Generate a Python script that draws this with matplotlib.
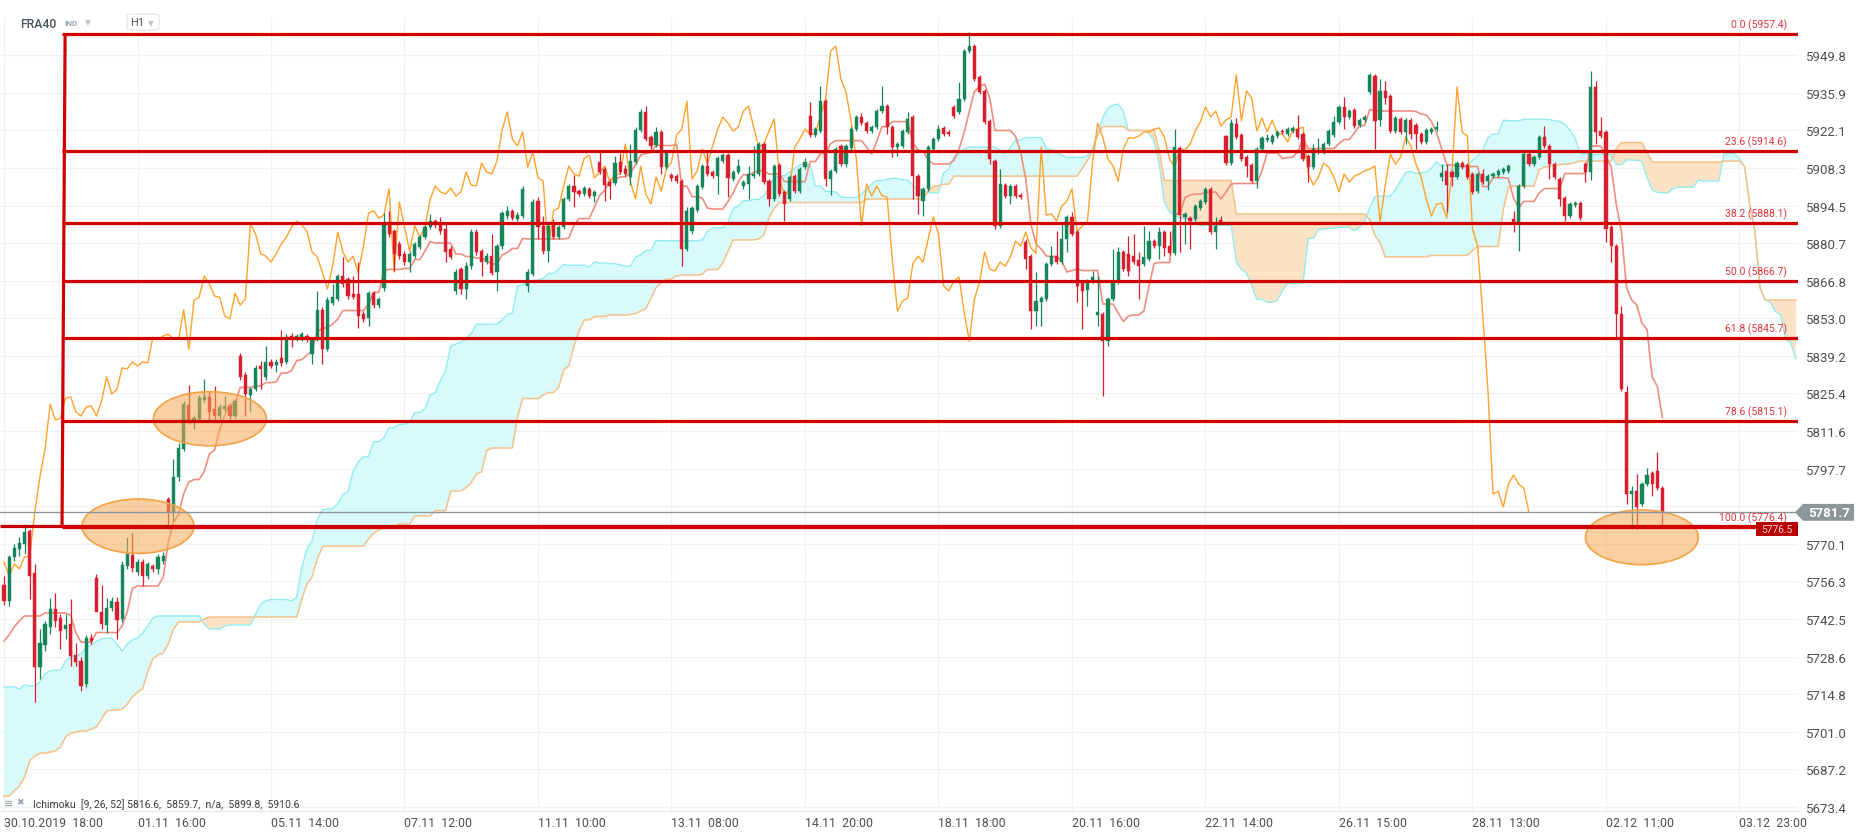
import numpy as np
import pandas as pd
import matplotlib
matplotlib.use("Agg")
import matplotlib.pyplot as plt
from matplotlib import transforms
from matplotlib.patches import Ellipse, Rectangle, Polygon, FancyBboxPatch

plt.rcParams["font.family"] = ["Roboto", "DejaVu Sans"]

# ---------- data: FRA40 H1 candles (30.10.2019 18:00 -> 03.12 09:00) ----------
opens = [
    5755.0, 5749.1, 5765.3, 5768.2, 5770.1, 5774.8, 5759.4, 5724.8, 5732.9, 5739.6,
    5746.2, 5742.9, 5738.8, 5740.7, 5729.3, 5727.1, 5718.6, 5735.5, 5757.6, 5745.1,
    5740.3, 5746.5, 5748.7, 5742.5, 5761.9, 5766.0, 5759.8, 5763.4, 5758.3, 5762.0,
    5760.9, 5763.8, 5786.6, 5781.8, 5794.7, 5805.0, 5821.1, 5815.6, 5816.0, 5823.0,
    5824.1, 5819.7, 5817.1, 5819.7, 5820.8, 5817.1, 5839.2, 5832.2, 5824.8, 5827.0,
    5835.5, 5831.4, 5837.0, 5835.9, 5838.4, 5837.0, 5846.5, 5845.8, 5845.8, 5846.5,
    5839.9, 5845.4, 5856.1, 5841.7, 5858.6, 5860.1, 5868.6, 5867.5, 5861.9, 5861.9,
    5854.6, 5853.1, 5862.3, 5857.9, 5864.2, 5887.7, 5885.1, 5880.3, 5876.7, 5873.7,
    5875.9, 5879.2, 5882.9, 5886.6, 5888.8, 5888.1, 5885.9, 5878.5, 5863.1, 5871.1,
    5863.8, 5872.2, 5884.7, 5877.8, 5873.7, 5875.9, 5870.0, 5879.6, 5890.6, 5892.5,
    5889.5, 5890.6, 5864.9, 5869.3, 5896.1, 5887.0, 5877.8, 5887.7, 5882.9, 5886.6,
    5896.9, 5901.7, 5899.8, 5898.7, 5900.6, 5898.0, 5910.5, 5907.9, 5903.1, 5902.8,
    5910.5, 5907.9, 5905.0, 5910.5, 5922.2, 5928.9, 5919.7, 5916.7, 5921.5, 5908.6,
    5905.7, 5905.3, 5903.5, 5878.5, 5885.1, 5892.8, 5901.3, 5909.0, 5906.8, 5905.3,
    5910.8, 5913.0, 5904.2, 5906.8, 5901.7, 5902.4, 5905.3, 5906.1, 5917.1, 5903.5,
    5896.9, 5909.4, 5899.5, 5896.9, 5905.3, 5899.8, 5908.6, 5927.4, 5920.4, 5921.9,
    5932.9, 5904.2, 5907.2, 5916.4, 5909.7, 5915.6, 5922.6, 5927.0, 5924.8, 5921.9,
    5923.3, 5929.2, 5931.1, 5923.3, 5916.0, 5916.4, 5921.5, 5927.0, 5905.3, 5896.1,
    5900.6, 5915.3, 5918.9, 5923.0, 5921.5, 5930.7, 5928.9, 5933.6, 5951.3, 5953.1,
    5941.7, 5936.6, 5925.6, 5910.8, 5887.0, 5902.0, 5898.0, 5901.7, 5898.3, 5881.1,
    5875.9, 5855.7, 5859.0, 5860.1, 5873.0, 5875.9, 5873.7, 5882.2, 5890.3, 5884.7,
    5866.4, 5863.4, 5866.7, 5854.2, 5854.6, 5844.7, 5860.1, 5866.4, 5877.4, 5876.7,
    5875.9, 5874.5, 5873.0, 5874.8, 5881.4, 5879.6, 5884.7, 5879.6, 5877.0, 5915.6,
    5890.3, 5889.9, 5889.5, 5893.6, 5895.8, 5900.6, 5884.7, 5889.2, 5920.0, 5910.1,
    5924.4, 5920.4, 5912.3, 5909.4, 5903.5, 5915.3, 5918.6, 5917.8, 5920.0, 5921.9,
    5920.8, 5921.9, 5922.6, 5920.8, 5912.7, 5908.6, 5914.2, 5914.2, 5917.1, 5920.4,
    5925.2, 5930.7, 5927.0, 5929.6, 5924.1, 5925.9, 5936.2, 5942.1, 5925.9, 5936.6,
    5934.7, 5921.9, 5926.3, 5921.5, 5925.9, 5924.1, 5920.8, 5917.8, 5921.5, 5922.6,
    5905.0, 5907.2, 5906.8, 5905.0, 5910.1, 5909.4, 5906.1, 5899.8, 5906.1, 5903.5,
    5905.3, 5905.7, 5906.8, 5907.2, 5889.5, 5888.4, 5901.7, 5913.4, 5909.7, 5912.3,
    5919.7, 5916.4, 5909.7, 5904.2, 5897.2, 5890.6, 5894.7, 5895.4, 5909.7, 5906.8,
    5938.1, 5921.9, 5921.5, 5886.6, 5879.6, 5854.6, 5825.9, 5788.4, 5789.5, 5784.8,
    5792.1, 5796.1, 5796.9, 5790.6,
]
highs = [
    5758.3, 5766.0, 5770.1, 5772.7, 5777.4, 5775.6, 5762.7, 5738.8, 5741.8, 5750.2,
    5752.0, 5744.4, 5744.4, 5749.8, 5733.6, 5728.5, 5736.6, 5737.0, 5759.0, 5755.0,
    5750.2, 5750.6, 5750.6, 5763.8, 5772.7, 5774.1, 5764.5, 5764.5, 5763.4, 5762.7,
    5766.4, 5767.1, 5787.3, 5801.3, 5807.2, 5822.6, 5828.5, 5817.5, 5824.8, 5830.7,
    5826.3, 5828.1, 5821.5, 5824.5, 5821.5, 5823.4, 5840.3, 5833.3, 5827.8, 5835.9,
    5837.3, 5842.8, 5838.1, 5838.1, 5848.7, 5847.2, 5847.6, 5847.2, 5848.0, 5847.2,
    5846.1, 5863.1, 5857.2, 5860.8, 5865.6, 5869.3, 5875.6, 5868.2, 5868.6, 5873.7,
    5855.7, 5863.1, 5863.1, 5860.8, 5891.7, 5892.5, 5885.9, 5881.4, 5877.8, 5877.8,
    5881.1, 5883.6, 5887.3, 5891.4, 5889.5, 5890.3, 5888.4, 5879.6, 5871.1, 5871.9,
    5873.7, 5885.9, 5885.9, 5878.5, 5877.0, 5884.0, 5880.3, 5892.5, 5894.3, 5893.2,
    5892.1, 5901.7, 5871.1, 5896.9, 5897.6, 5890.6, 5887.7, 5889.5, 5887.3, 5897.6,
    5902.4, 5905.7, 5900.6, 5901.7, 5901.3, 5900.2, 5914.2, 5908.6, 5903.9, 5912.7,
    5913.8, 5909.4, 5917.1, 5923.3, 5930.0, 5931.1, 5920.4, 5923.3, 5922.2, 5914.9,
    5906.4, 5906.1, 5904.2, 5893.9, 5894.3, 5902.4, 5909.7, 5914.2, 5907.5, 5912.7,
    5913.8, 5913.8, 5907.5, 5911.6, 5903.9, 5909.0, 5916.4, 5917.8, 5917.8, 5904.2,
    5909.7, 5910.1, 5900.2, 5905.7, 5906.1, 5908.6, 5911.9, 5932.5, 5923.3, 5938.4,
    5933.6, 5907.9, 5916.0, 5917.1, 5917.1, 5923.3, 5927.8, 5928.5, 5925.6, 5924.1,
    5930.0, 5938.4, 5931.8, 5924.1, 5917.8, 5922.6, 5928.9, 5927.8, 5906.1, 5901.3,
    5916.7, 5919.7, 5924.1, 5923.7, 5922.2, 5931.4, 5939.9, 5952.0, 5958.3, 5953.9,
    5942.5, 5937.3, 5926.3, 5911.6, 5907.9, 5902.8, 5902.4, 5902.4, 5899.1, 5882.2,
    5876.7, 5870.0, 5861.2, 5873.7, 5879.6, 5885.1, 5888.4, 5891.0, 5892.1, 5885.5,
    5867.1, 5867.5, 5870.4, 5868.6, 5855.3, 5860.8, 5878.5, 5879.2, 5878.1, 5883.3,
    5884.0, 5877.4, 5887.0, 5885.1, 5882.2, 5886.6, 5885.5, 5885.1, 5922.6, 5916.4,
    5892.1, 5890.6, 5895.0, 5896.9, 5901.3, 5901.3, 5890.3, 5890.6, 5920.4, 5926.3,
    5926.7, 5921.1, 5913.0, 5910.1, 5916.0, 5920.0, 5920.8, 5920.8, 5922.2, 5922.6,
    5923.3, 5923.7, 5927.8, 5921.5, 5913.4, 5917.1, 5919.3, 5917.8, 5922.6, 5927.4,
    5931.4, 5934.4, 5930.0, 5930.3, 5926.7, 5927.8, 5943.2, 5942.8, 5941.0, 5940.3,
    5935.5, 5927.4, 5927.0, 5926.7, 5926.7, 5924.8, 5921.5, 5923.0, 5923.3, 5925.6,
    5909.7, 5909.7, 5907.5, 5910.8, 5910.8, 5910.1, 5906.8, 5906.8, 5907.9, 5906.1,
    5906.8, 5907.9, 5908.6, 5909.7, 5892.5, 5902.4, 5914.2, 5914.2, 5913.0, 5920.4,
    5923.7, 5917.1, 5910.5, 5905.0, 5898.0, 5895.8, 5896.1, 5896.1, 5910.5, 5943.9,
    5940.3, 5927.0, 5922.2, 5887.3, 5880.3, 5857.5, 5828.1, 5791.4, 5795.8, 5792.8,
    5798.0, 5796.9, 5803.9, 5791.4,
]
lows = [
    5747.6, 5747.2, 5763.8, 5765.6, 5766.4, 5749.8, 5712.0, 5720.4, 5730.8, 5737.0,
    5739.6, 5731.5, 5735.1, 5725.2, 5725.2, 5716.0, 5717.5, 5733.3, 5745.5, 5738.8,
    5737.3, 5745.4, 5735.1, 5741.4, 5760.9, 5759.8, 5758.7, 5754.6, 5757.2, 5759.8,
    5759.0, 5762.7, 5775.6, 5778.5, 5793.2, 5804.2, 5814.2, 5812.3, 5815.3, 5822.3,
    5814.9, 5816.0, 5816.0, 5818.9, 5816.0, 5816.4, 5830.3, 5817.1, 5818.9, 5826.3,
    5827.0, 5830.3, 5834.8, 5833.3, 5835.5, 5836.2, 5842.5, 5844.7, 5844.7, 5844.3,
    5836.2, 5844.7, 5836.2, 5841.0, 5857.9, 5859.4, 5864.5, 5860.1, 5860.1, 5849.5,
    5851.7, 5850.2, 5856.8, 5856.8, 5863.1, 5882.9, 5870.4, 5874.8, 5872.6, 5870.0,
    5875.2, 5878.5, 5882.2, 5885.9, 5886.2, 5884.0, 5873.7, 5874.8, 5861.9, 5861.9,
    5860.1, 5871.1, 5876.3, 5868.6, 5873.0, 5868.9, 5863.1, 5878.5, 5889.5, 5889.2,
    5888.8, 5889.9, 5862.7, 5868.6, 5882.2, 5876.7, 5873.7, 5882.2, 5882.2, 5885.9,
    5896.1, 5893.9, 5898.0, 5898.0, 5897.2, 5895.8, 5906.1, 5896.1, 5896.9, 5902.0,
    5906.1, 5905.3, 5902.0, 5909.7, 5921.5, 5918.2, 5915.3, 5916.0, 5906.1, 5907.9,
    5903.5, 5902.8, 5872.2, 5877.8, 5884.0, 5892.1, 5900.6, 5905.3, 5904.6, 5898.7,
    5910.1, 5897.6, 5903.5, 5906.1, 5900.6, 5896.9, 5904.6, 5905.3, 5902.4, 5894.3,
    5896.1, 5898.0, 5888.8, 5896.1, 5899.1, 5899.1, 5907.9, 5919.7, 5919.7, 5921.1,
    5901.7, 5898.3, 5906.4, 5909.0, 5908.6, 5914.9, 5921.9, 5924.1, 5921.1, 5921.1,
    5922.6, 5928.5, 5920.8, 5912.3, 5912.7, 5915.6, 5920.8, 5896.9, 5891.4, 5890.6,
    5899.8, 5914.5, 5918.2, 5920.0, 5920.0, 5926.7, 5928.1, 5932.9, 5950.5, 5940.3,
    5935.5, 5924.4, 5909.7, 5885.9, 5886.2, 5897.2, 5895.0, 5897.2, 5896.9, 5871.1,
    5849.1, 5850.2, 5850.2, 5859.4, 5872.2, 5873.0, 5873.0, 5877.4, 5883.3, 5859.0,
    5849.1, 5857.5, 5866.0, 5850.2, 5824.5, 5842.8, 5859.4, 5865.6, 5870.4, 5868.6,
    5873.0, 5860.1, 5872.2, 5874.1, 5878.9, 5874.8, 5875.9, 5876.3, 5876.3, 5877.4,
    5880.3, 5878.5, 5888.8, 5892.8, 5895.0, 5884.0, 5878.5, 5887.7, 5909.4, 5909.4,
    5918.9, 5910.8, 5905.0, 5902.8, 5900.9, 5914.5, 5917.8, 5917.1, 5919.3, 5920.8,
    5920.0, 5921.1, 5918.9, 5910.8, 5903.1, 5907.9, 5913.4, 5913.4, 5916.4, 5919.7,
    5924.4, 5922.6, 5926.3, 5923.0, 5923.3, 5925.2, 5935.5, 5915.3, 5923.7, 5931.8,
    5921.1, 5921.1, 5920.8, 5917.1, 5918.9, 5915.3, 5917.1, 5917.1, 5920.8, 5921.9,
    5903.5, 5892.1, 5901.7, 5904.2, 5907.9, 5904.2, 5898.7, 5899.1, 5902.4, 5900.2,
    5904.6, 5905.0, 5906.1, 5906.4, 5884.7, 5877.8, 5900.9, 5909.0, 5909.0, 5911.6,
    5915.6, 5904.2, 5904.2, 5894.3, 5888.8, 5889.9, 5893.9, 5889.2, 5903.1, 5903.9,
    5917.1, 5919.3, 5881.1, 5873.7, 5846.1, 5826.3, 5784.8, 5775.6, 5775.6, 5784.0,
    5791.4, 5787.7, 5789.9, 5776.7,
]
closes = [
    5749.1, 5765.3, 5768.6, 5770.4, 5774.5, 5758.3, 5724.8, 5733.6, 5740.7, 5746.2,
    5741.8, 5738.1, 5740.3, 5728.9, 5726.7, 5717.8, 5735.5, 5734.4, 5745.1, 5740.7,
    5746.5, 5749.1, 5742.1, 5762.3, 5766.4, 5761.2, 5763.4, 5758.3, 5762.7, 5760.9,
    5765.3, 5765.6, 5781.8, 5794.7, 5805.3, 5821.5, 5815.6, 5816.4, 5823.7, 5824.1,
    5818.6, 5817.1, 5820.4, 5820.8, 5817.1, 5822.6, 5831.4, 5825.2, 5827.0, 5834.8,
    5834.4, 5837.0, 5835.5, 5837.0, 5836.6, 5846.1, 5845.4, 5846.5, 5847.2, 5845.4,
    5845.4, 5856.1, 5841.7, 5859.7, 5860.8, 5868.6, 5865.6, 5861.2, 5860.8, 5853.9,
    5852.8, 5862.3, 5857.9, 5860.1, 5887.7, 5884.0, 5876.7, 5875.9, 5873.7, 5876.7,
    5880.3, 5882.9, 5886.6, 5888.8, 5887.3, 5885.1, 5877.4, 5875.6, 5870.0, 5863.8,
    5872.2, 5884.7, 5877.4, 5873.7, 5875.9, 5869.7, 5879.6, 5891.7, 5892.5, 5889.9,
    5891.0, 5900.6, 5870.0, 5895.8, 5886.6, 5877.8, 5887.0, 5882.9, 5886.6, 5896.9,
    5901.7, 5899.5, 5898.7, 5900.9, 5898.0, 5899.5, 5906.8, 5902.0, 5901.7, 5910.1,
    5906.8, 5906.1, 5910.8, 5922.2, 5928.9, 5918.9, 5916.4, 5921.5, 5908.6, 5914.2,
    5904.6, 5903.5, 5878.5, 5892.5, 5893.6, 5901.7, 5909.0, 5906.1, 5905.3, 5911.9,
    5913.0, 5904.6, 5906.8, 5909.0, 5903.1, 5906.1, 5906.1, 5917.1, 5903.1, 5896.9,
    5909.0, 5898.7, 5895.0, 5905.0, 5899.8, 5907.9, 5910.5, 5920.4, 5922.6, 5932.9,
    5904.2, 5907.2, 5915.3, 5909.7, 5916.4, 5922.6, 5927.0, 5924.8, 5921.9, 5923.3,
    5929.2, 5931.1, 5923.3, 5916.0, 5917.1, 5921.9, 5926.3, 5905.3, 5898.0, 5900.6,
    5916.0, 5918.9, 5922.6, 5920.8, 5920.8, 5927.4, 5933.6, 5951.3, 5953.1, 5941.0,
    5936.2, 5925.2, 5911.6, 5887.0, 5902.4, 5898.0, 5901.7, 5898.0, 5897.6, 5874.8,
    5855.7, 5859.4, 5860.5, 5873.0, 5875.9, 5873.7, 5882.2, 5890.3, 5884.0, 5864.9,
    5863.1, 5866.7, 5868.2, 5855.3, 5844.7, 5860.1, 5866.4, 5877.4, 5871.1, 5870.4,
    5873.7, 5872.2, 5875.6, 5881.4, 5879.6, 5884.7, 5878.9, 5877.0, 5916.0, 5891.0,
    5891.4, 5888.8, 5894.3, 5896.1, 5900.6, 5884.7, 5887.0, 5888.4, 5910.1, 5924.8,
    5919.7, 5911.6, 5909.0, 5903.5, 5915.3, 5919.3, 5919.3, 5920.0, 5921.5, 5921.5,
    5922.6, 5923.0, 5919.7, 5911.6, 5908.6, 5915.3, 5914.9, 5917.1, 5921.9, 5925.2,
    5930.7, 5927.0, 5929.2, 5923.7, 5925.9, 5927.0, 5942.5, 5925.6, 5936.6, 5934.0,
    5921.9, 5926.7, 5921.5, 5925.9, 5920.8, 5920.8, 5917.8, 5922.2, 5922.6, 5923.3,
    5906.4, 5902.0, 5905.0, 5910.1, 5908.6, 5905.0, 5899.5, 5906.1, 5903.1, 5905.3,
    5906.1, 5907.2, 5907.9, 5909.0, 5888.4, 5901.7, 5913.4, 5909.7, 5912.3, 5919.7,
    5916.4, 5909.7, 5905.0, 5896.9, 5890.6, 5895.0, 5895.4, 5889.9, 5906.8, 5938.1,
    5921.5, 5920.0, 5885.9, 5879.6, 5854.6, 5827.0, 5788.4, 5789.5, 5783.7, 5792.1,
    5795.4, 5792.1, 5790.6, 5781.7,
]

# indicator values before enough history is on screen
tenkan_early = [5734.4, 5736.6, 5739.6, 5741.8, 5743.6, 5743.6, 5743.6, 5743.6]
span_a_early = [
    5717.5, 5717.5, 5717.5, 5716.8, 5718.2, 5717.9, 5717.9, 5719.3, 5722.3, 5723.4,
    5723.7, 5723.7, 5727.1, 5728.5, 5728.9, 5729.6, 5732.2, 5732.9, 5734.4, 5735.1,
    5735.5, 5735.5, 5733.3, 5730.7, 5733.3, 5734.8, 5735.5, 5737.3, 5739.9, 5742.9,
    5743.6, 5743.6, 5743.6, 5743.6, 5743.6, 5743.6, 5743.6, 5743.6, 5743.6, 5740.7,
    5738.8, 5738.8, 5738.8, 5739.9, 5740.3, 5740.3, 5740.3, 5740.3, 5740.3, 5744.3,
    5748.0,
]
span_b_early = [
    5677.4, 5677.4, 5679.3, 5681.1, 5684.4, 5690.3, 5692.1, 5693.2, 5693.2, 5693.6,
    5694.0, 5695.4, 5699.1, 5700.6, 5700.9, 5701.3, 5701.3, 5702.0, 5702.8, 5705.7,
    5708.7, 5709.0, 5709.0, 5709.4, 5711.2, 5713.8, 5715.6, 5716.8, 5723.0, 5727.8,
    5729.3, 5730.0, 5733.3, 5738.8, 5741.4, 5741.4, 5741.4, 5741.4, 5741.4, 5742.5,
    5743.2, 5743.2, 5743.2, 5743.2, 5743.2, 5743.2, 5743.2, 5743.2, 5743.2, 5743.2,
    5743.2, 5743.2, 5743.2, 5743.2, 5743.2, 5743.2, 5743.2, 5743.2, 5749.8, 5755.4,
    5757.9, 5764.5, 5769.0, 5769.3, 5769.3, 5769.3, 5769.3, 5769.3, 5769.3, 5769.3,
    5769.3, 5771.9, 5774.1, 5775.2, 5775.9, 5776.3, 5776.3,
]

fib_levels = [0.0, 23.6, 38.2, 50.0, 61.8, 78.6, 100.0]
fib_prices = [5957.4, 5914.6, 5888.1, 5866.7, 5845.7, 5815.1, 5776.4]
last_price = 5781.7
line_price = 5776.5

ytick_values = [5949.8, 5935.9, 5922.1, 5908.3, 5894.5, 5880.7, 5866.8, 5853.0, 5839.2,
                5825.4, 5811.6, 5797.7, 5783.9, 5770.1, 5756.3, 5742.5, 5728.6, 5714.8,
                5701.0, 5687.2, 5673.4]
xtick_bars = [0, 26, 52, 78, 104, 130, 156, 182, 208, 234, 260, 286, 312, 338]
xtick_labels = ["30.10.2019  18:00", "01.11  16:00", "05.11  14:00", "07.11  12:00",
                "11.11  10:00", "13.11  08:00", "14.11  20:00", "18.11  18:00",
                "20.11  16:00", "22.11  14:00", "26.11  15:00", "28.11  13:00",
                "02.12  11:00", "03.12  23:00"]

# user drawn marks (bar index, price, width in bars, height in price)
ELLIPSES = [(26.1, 5776.6, 21.8, 20.0), (40.1, 5816.1, 22.0, 19.9), (319.0, 5772.5, 22.0, 20.1)]
FIB_X0 = 11.3

# ---------- ichimoku 9/26/52 ----------
O = np.array(opens); H = np.array(highs); L = np.array(lows); C = np.array(closes)
n = len(C)
x = np.arange(n)
shift = 26
hs, ls = pd.Series(H), pd.Series(L)
tenkan = ((hs.rolling(9).max() + ls.rolling(9).min()) / 2).to_numpy()
tenkan[:len(tenkan_early)] = tenkan_early
kijun = ((hs.rolling(26).max() + ls.rolling(26).min()) / 2).to_numpy()
mid52 = ((hs.rolling(52).max() + ls.rolling(52).min()) / 2).to_numpy()

m = n + shift
xc = np.arange(m)
span_a = np.full(m, np.nan)
span_a[shift:] = (tenkan + kijun) / 2
span_a[:len(span_a_early)] = span_a_early
span_b = np.full(m, np.nan)
span_b[shift:] = mid52
span_b[:len(span_b_early)] = span_b_early

# ---------- figure ----------
W, Hpx = 1866, 837
fig = plt.figure(figsize=(W / 100, Hpx / 100), dpi=100)
ax = fig.add_axes([0, 25 / Hpx, 1798 / W, (812 - 18) / Hpx])
XMAX = 349.4
ax.set_xlim(-0.78, XMAX)
ax.set_ylim(5671.9, 5963.8)

ax.set_axisbelow(True)
ax.grid(True, color="#eff1f2", lw=0.9)
for s in ["top", "left", "right"]:
    ax.spines[s].set_visible(False)
ax.spines["bottom"].set_color("#e6e8ea")

ax.yaxis.tick_right()
ax.set_yticks(ytick_values)
# the 5783.9 label sits under the last-price tag, as on the platform
ax.set_yticklabels(["" if abs(v - last_price) < 4 else f"{v:.1f}" for v in ytick_values])
ax.tick_params(axis="y", length=0, pad=6, labelsize=9.5, labelcolor="#4f4f4f")
ax.set_xticks(xtick_bars)
ax.set_xticklabels(xtick_labels, ha="left")
ax.tick_params(axis="x", length=0, pad=3.5, labelsize=8.9, labelcolor="#4f4f4f")

# cloud
cyan_fill, orange_fill = "#d9fafa", "#fde2c5"
ax.fill_between(xc, span_a, span_b, where=span_a >= span_b, interpolate=True,
                color=cyan_fill, lw=0, zorder=1)
ax.fill_between(xc, span_a, span_b, where=span_a < span_b, interpolate=True,
                color=orange_fill, lw=0, zorder=1)
ax.plot(xc, span_a, color="#93ecef", lw=1.0, zorder=1.5)
ax.plot(xc, span_b, color="#f5c08a", lw=1.1, zorder=1.5)

# tenkan + chikou
ax.plot(x, tenkan, color="#ee8e7e", lw=1.2, zorder=2)
ax.plot(x[shift:] - shift, C[shift:], color="#ffa22c", lw=1.0, zorder=2.2)

# candles
up = C >= O
colors = np.where(up, "#16865a", "#d91f2e")
ax.vlines(x, L, H, colors=colors, lw=0.9, zorder=3)
body = np.maximum(np.abs(C - O), 0.45)
ax.bar(x, body, bottom=np.minimum(O, C), width=0.62, color=colors,
       edgecolor=colors, lw=0.3, zorder=3.1)

# ellipses
for cx, cy, w, h in ELLIPSES:
    ax.add_patch(Ellipse((cx, cy), w, h, facecolor="#f6a957", alpha=0.55,
                         edgecolor="none", zorder=4))
    ax.add_patch(Ellipse((cx, cy), w, h, facecolor="none", edgecolor="#f2a244",
                         lw=1.2, zorder=4.1))

# price lines
ax.axhline(last_price, color="#8d979b", lw=1.0, zorder=4.2)
ax.hlines(line_price, -0.78, XMAX, color="#c80000", lw=2.3, zorder=5)
ax.hlines(fib_prices, FIB_X0, XMAX, color="#d00000", lw=2.3, zorder=5)
ax.plot([11.9, FIB_X0], [fib_prices[0], fib_prices[-1]], color="#d00000", lw=2.3,
        zorder=5, solid_capstyle="butt")
for lvl, p in zip(fib_levels, fib_prices):
    ax.annotate(f"{lvl:.1f} ({p:.1f})", (347.2, p), xytext=(0, 3),
                textcoords="offset points", ha="right", va="bottom",
                fontsize=7.5, color="#e0343c", zorder=6)

# axis price tags
tr = transforms.blended_transform_factory(fig.transFigure, ax.transData)
tag = Polygon([(1795 / W, last_price), (1803 / W, last_price + 3.1),
               (1854 / W, last_price + 3.1), (1854 / W, last_price - 3.1),
               (1803 / W, last_price - 3.1)], closed=True, transform=tr,
              facecolor="#8c979a", edgecolor="none", clip_on=False, zorder=10)
ax.add_patch(tag)
ax.text(1829 / W, last_price, f"{last_price:.1f}", transform=tr, ha="center",
        va="center", color="white", fontsize=9.5, fontweight="bold", zorder=11)
ax.add_patch(Rectangle((341.2, 5773.0), 8.2, 5.2, facecolor="#b80000",
                       edgecolor="none", zorder=10, clip_on=False))
ax.text(345.3, 5775.4, f"{line_price:.1f}", ha="center", va="center",
        color="#f4d4d4", fontsize=7.3, zorder=11)

# header
fig.text(20 / W, 1 - 24 / Hpx, "FRA40", fontsize=8.8, color="#4b545a",
         fontweight="medium", va="center")
fig.text(64 / W, 1 - 23.5 / Hpx, "IND", fontsize=5.8, color="#9ba8b1",
         fontweight="bold", va="center")
fig.text(85 / W, 1 - 23 / Hpx, "▼", fontsize=5.5, color="#bfc6cb", va="center")
fig.patches.append(FancyBboxPatch((127 / W, 1 - 31 / Hpx), 32 / W, 16 / Hpx,
                                  boxstyle="round,pad=0,rounding_size=0.003",
                                  transform=fig.transFigure, facecolor="white",
                                  edgecolor="#dfe3e6", lw=0.8))
fig.text(130 / W, 1 - 23.5 / Hpx, "H1", fontsize=8, color="#4b545a", va="center")
fig.text(148 / W, 1 - 23.5 / Hpx, "▼", fontsize=5.5, color="#bfc6cb", va="center")

# indicator legend
fig.text(4 / W, 1 - 804 / Hpx, "≡", fontsize=8, color="#9aa3a8", va="center",
         fontweight="bold")
fig.text(16 / W, 1 - 803 / Hpx, "✖", fontsize=6.5, color="#9aa3a8", va="center")
fig.text(33 / W, 1 - 805 / Hpx,
         "Ichimoku  [9, 26, 52] 5816.6,  5859.7,  n/a,  5899.8,  5910.6",
         fontsize=7.5, color="#3d3d3d", va="center")

fig.savefig("out.png", dpi=100, facecolor="white")
